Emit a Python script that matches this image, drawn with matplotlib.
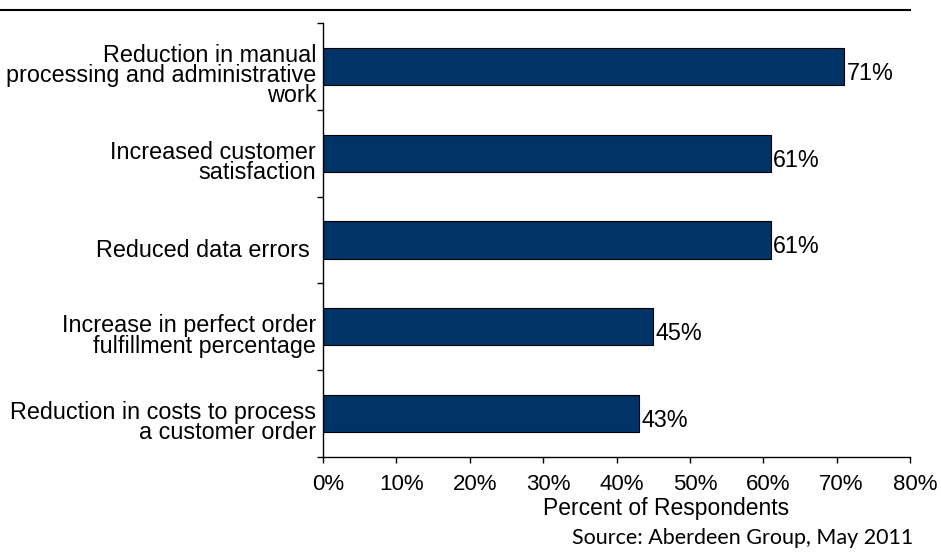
import matplotlib
matplotlib.use("Agg")
import matplotlib.pyplot as plt
import matplotlib.transforms as mtransforms
from matplotlib.lines import Line2D

categories = [
    "Reduction in manual\nprocessing and administrative\nwork",
    "Increased customer\nsatisfaction",
    "Reduced data errors ",
    "Increase in perfect order\nfulfillment percentage",
    "Reduction in costs to process\na customer order",
]
values = [71, 61, 61, 45, 43]
xticks = [0, 10, 20, 30, 40, 50, 60, 70, 80]
xlabel = "Percent of Respondents"
source = "Source: Aberdeen Group, May 2011"

bar_color = "#003366"
fs_cat = 16.8
fs_val = 16.8
fs_tick = 16
fs_xlabel = 16.5

fig = plt.figure(figsize=(9.41, 5.52), dpi=100)
ax = fig.add_axes([323/941, 1-457/552, (910-323)/941, (457-23)/552])

pos = list(range(len(categories)))
ax.barh(pos, values, height=0.43, color=bar_color, edgecolor="black", linewidth=0.8)
ax.set_xlim(0, 80)
ax.set_ylim(len(categories) - 0.5, -0.5)

ax.set_xticks(xticks)
ax.set_xticklabels([f"{v}%" for v in xticks], fontsize=fs_tick, family="Liberation Sans")
ax.tick_params(axis="x", direction="out", length=4, width=1, pad=8)
offx = mtransforms.ScaledTranslation(5/100, 0, fig.dpi_scale_trans)
for lab in ax.get_xticklabels():
    lab.set_transform(lab.get_transform() + offx)

ax.set_yticks([p - 0.5 for p in pos] + [len(categories) - 0.5])
ax.set_yticklabels([])
ax.tick_params(axis="y", which="major", direction="out", length=4, width=1)
ax.set_yticks(pos, minor=True)
ax.set_yticklabels(categories, minor=True, fontsize=fs_cat, family="Liberation Sans",
                   linespacing=0.85)
ax.tick_params(axis="y", which="minor", length=0, pad=5)
off = mtransforms.ScaledTranslation(0, -8/100, fig.dpi_scale_trans)
for lab in ax.get_yticklabels(minor=True):
    lab.set_transform(lab.get_transform() + off)

for s in ["top", "right"]:
    ax.spines[s].set_visible(False)
for s in ["left", "bottom"]:
    ax.spines[s].set_linewidth(1)

for p, v in zip(pos, values):
    ax.annotate(f"{v}%", xy=(v, p), xytext=(2, -5), textcoords="offset points",
                ha="left", va="center", fontsize=fs_val, family="Liberation Sans")

ax.set_xlabel(xlabel, fontsize=fs_xlabel, family="Liberation Sans")
ax.xaxis.set_label_coords((666-323)/587, (457-509)/434)
ax.xaxis.label.set_va("center")

fig.add_artist(Line2D([0, 910/941], [1-10/552, 1-10/552], color="black", linewidth=1.5,
                      transform=fig.transFigure))
fig.text(913/941, 1-538/552, source, ha="right", va="center", fontsize=15.5, family="Lato")

fig.savefig("out.png", dpi=100)
